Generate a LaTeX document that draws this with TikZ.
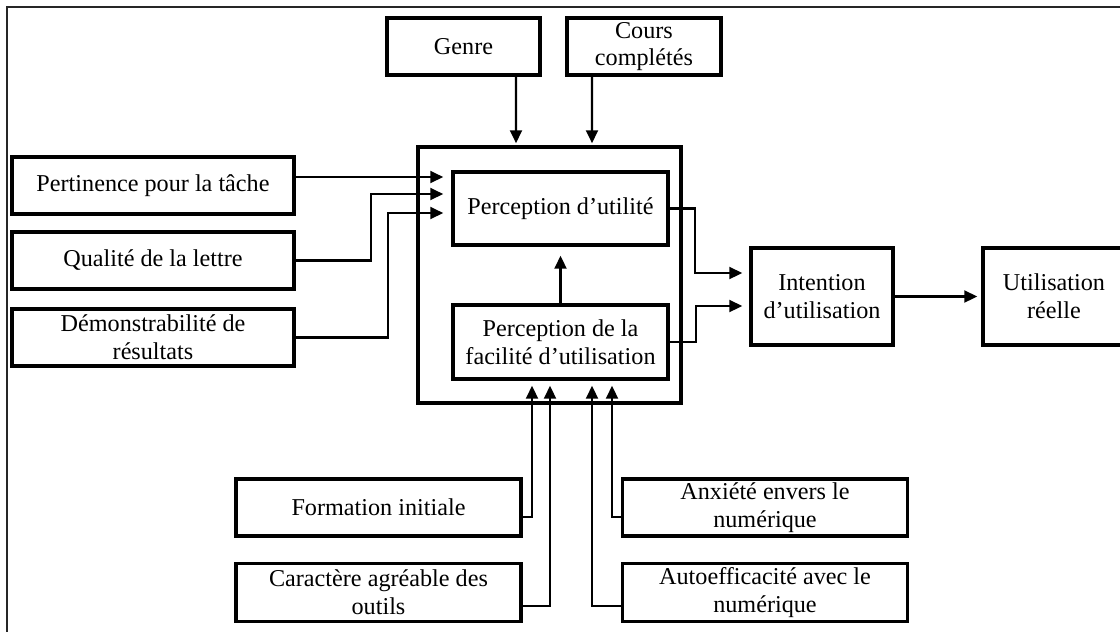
\documentclass[tikz,border=0pt]{standalone}
\usepackage{fontspec}
\setmainfont{Liberation Serif}
\usetikzlibrary{arrows.meta, calc}

\begin{document}
\begin{tikzpicture}[x=0.025cm, y=-0.025cm,
    box/.style={rectangle, draw, line width=2.6pt, align=center, inner sep=0pt, font=\fontsize{17.2}{20}\selectfont},
    side/.style={box, minimum width=7.05cm, minimum height=1.425cm},
    base/.style={box, minimum width=7.125cm, minimum height=1.45cm},
    conn/.style={line width=1.5pt, -{Triangle[length=3.2mm, width=3mm]}}]
    \useasboundingbox (0,0) rectangle (1120,632);
    \draw[line width=1.2pt, black!85] (7,645) -- (7,7) -- (1135,7);

    % top boxes
    \node[box, minimum width=3.825cm, minimum height=1.425cm] (genre) at (463.5,46.5) {Genre};
    \node[box, minimum width=3.85cm, minimum height=1.425cm, font=\fontsize{17.2}{19}\selectfont] (cours) at (644,46.5) {Cours\\complétés};

    % central block
    \node[box, minimum width=6.575cm, minimum height=6.4cm] (core) at (549.5,275) {};
    \node[box, minimum width=5.375cm, minimum height=1.825cm] (pu) at (560.5,208.5) {Perception d’utilité};
    \node[box, minimum width=5.375cm, minimum height=1.85cm] (pfu) at (560.5,342) {Perception de la\\facilité d’utilisation};

    % left column
    \node[side] (pert) at (153,185.5) {Pertinence pour la tâche};
    \node[side] (qual) at (153,260.5) {Qualité de la lettre};
    \node[side] (demo) at (153,337.5) {Démonstrabilité de\\résultats};

    % right
    \node[box, minimum width=3.55cm, minimum height=2.425cm] (inten) at (822,296.5) {Intention\\d’utilisation};
    \node[box, minimum width=3.55cm, minimum height=2.425cm] (util) at (1054,296.5) {Utilisation\\réelle};

    % bottom boxes
    \node[base, minimum height=1.425cm] (form) at (378.5,507.5) {Formation initiale};
    \node[base] (cara) at (378.5,592.5) {Caractère agréable des\\outils};
    \node[base, minimum height=1.425cm] (anx) at (765,507.5) {Anxiété envers le\\numérique};
    \node[base] (auto) at (765,592.5) {Autoefficacité avec le\\numérique};

    % connectors
    \draw[conn] ($(genre.south)+(52.5,0)$) -- ($(core.north)+(-33.5,-2)$);
    \draw[conn] ($(cours.south)+(-52,0)$) -- ($(core.north)+(42.5,-2)$);

    \draw[conn] ($(pert.east)+(0,-8.5)$) -- ($(pu.west)+(-8,-31.5)$);
    \draw[conn] (qual.east) -- ++(75,0) |- ($(pu.west)+(-8,-14.5)$);
    \draw[conn] (demo.east) -- ++(92,0) |- ($(pu.west)+(-8,4.5)$);

    \draw[conn] (pfu.north) -- ($(pu.south)+(0,9)$);

    \draw[conn] (pu.east) -- ++(25,0) |- ($(inten.west)+(-7,-23.5)$);
    \draw[conn] (pfu.east) -- ++(26,0) |- ($(inten.west)+(-7,9.5)$);
    \draw[conn] (inten.east) -- ($(util.west)+(-4,0)$);

    \draw[conn] ($(form.east)+(0,9.5)$) -| ($(pfu.south)+(-28.5,5)$);
    \draw[conn] ($(cara.east)+(0,13.5)$) -| ($(pfu.south)+(-10.5,5)$);
    \draw[conn] ($(auto.west)+(0,13.5)$) -| ($(pfu.south)+(31.5,5)$);
    \draw[conn] ($(anx.west)+(0,9.5)$) -| ($(pfu.south)+(51.5,5)$);
\end{tikzpicture}
\end{document}
